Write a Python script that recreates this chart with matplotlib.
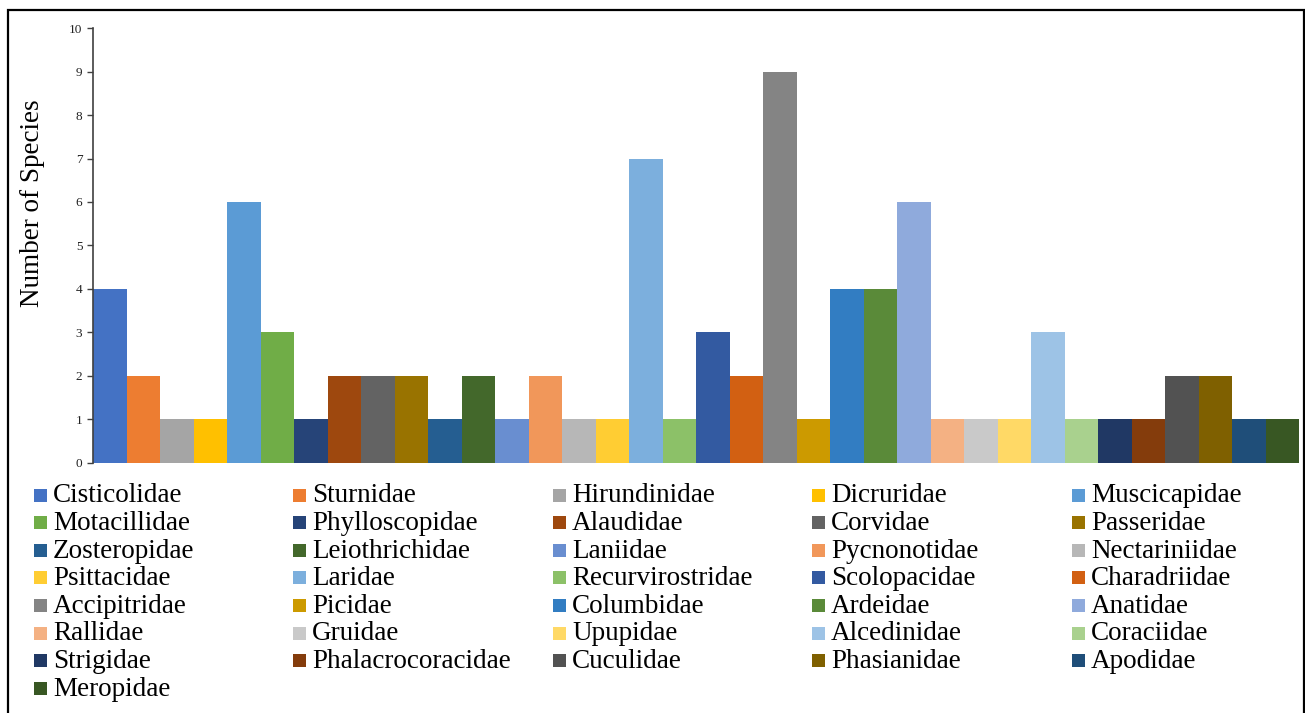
import matplotlib
matplotlib.use("Agg")
import matplotlib.pyplot as plt
from matplotlib.patches import Rectangle

plt.rcParams["font.family"] = ["Liberation Serif", "DejaVu Serif"]

families = [
    "Cisticolidae", "Sturnidae", "Hirundinidae", "Dicruridae", "Muscicapidae",
    "Motacillidae", "Phylloscopidae", "Alaudidae", "Corvidae", "Passeridae",
    "Zosteropidae", "Leiothrichidae", "Laniidae", "Pycnonotidae", "Nectariniidae",
    "Psittacidae", "Laridae", "Recurvirostridae", "Scolopacidae", "Charadriidae",
    "Accipitridae", "Picidae", "Columbidae", "Ardeidae", "Anatidae",
    "Rallidae", "Gruidae", "Upupidae", "Alcedinidae", "Coraciidae",
    "Strigidae", "Phalacrocoracidae", "Cuculidae", "Phasianidae", "Apodidae",
    "Meropidae",
]
species_counts = [
    4, 2, 1, 1, 6,
    3, 1, 2, 2, 2,
    1, 2, 1, 2, 1,
    1, 7, 1, 3, 2,
    9, 1, 4, 4, 6,
    1, 1, 1, 3, 1,
    1, 1, 2, 2, 1,
    1,
]
colors = [
    "#4472C4", "#ED7D31", "#A5A5A5", "#FFC000", "#5B9BD5", "#70AD47",
    "#264478", "#9E480E", "#636363", "#997300", "#255E91", "#43682B",
    "#698ED0", "#F1975A", "#B7B7B7", "#FFCD33", "#7CAFDD", "#8CC168",
    "#335AA1", "#D26012", "#848484", "#CC9A00", "#327DC2", "#5A8A39",
    "#8FAADC", "#F4B183", "#C9C9C9", "#FFD966", "#9DC3E6", "#A9D18E",
    "#203864", "#843C0C", "#525252", "#7F6000", "#1F4E79", "#385723",
]
y_ticks = list(range(0, 11))

W, H = 1305, 713
fig = plt.figure(figsize=(W / 100, H / 100), dpi=100)

def fx(px):
    return px / W

def fy(py):
    return 1 - py / H

ax = fig.add_axes([fx(93), fy(462.5), fx(1299) - fx(93), fy(28.3) - fy(462.5)])
x = list(range(len(families)))
ax.bar(x, species_counts, width=1.0, color=colors, linewidth=0)
ax.set_xlim(-0.5, len(families) - 0.5)
ax.set_ylim(0, 10)
ax.set_yticks(y_ticks)
ax.set_xticks([])
for side in ("top", "right", "bottom"):
    ax.spines[side].set_visible(False)
ax.spines["left"].set_color("#404040")
ax.spines["left"].set_linewidth(1.2)
ax.tick_params(axis="y", length=4.3, width=1.0, color="#404040",
               labelsize=9.5, pad=3.4, labelcolor="#222222")

fig.text(fx(33), fy(203), "Number of Species", rotation=90, fontsize=19.5,
         ha="center", va="center")

# legend laid out row by row, five columns
col_x = [34, 293, 553, 812, 1072]
row_y0, row_dy = 495, 27.6
marker = 13
for i, (name, c) in enumerate(zip(families, colors)):
    r, k = divmod(i, 5)
    cx = col_x[k]
    cy = row_y0 + r * row_dy
    fig.patches.append(Rectangle((fx(cx), fy(cy + marker / 2)), fx(marker), marker / H,
                                 transform=fig.transFigure, facecolor=c,
                                 edgecolor="none"))
    fig.text(fx(cx + 19), fy(cy + 1), name, fontsize=19.5, ha="left", va="center")

# outer frame
fig.patches.append(Rectangle((fx(7.5), fy(720)), fx(1303.5) - fx(7.5), (720 - 10) / H,
                             transform=fig.transFigure, facecolor="none",
                             edgecolor="black", linewidth=1.6, clip_on=False))

fig.savefig("out.png", dpi=100)
